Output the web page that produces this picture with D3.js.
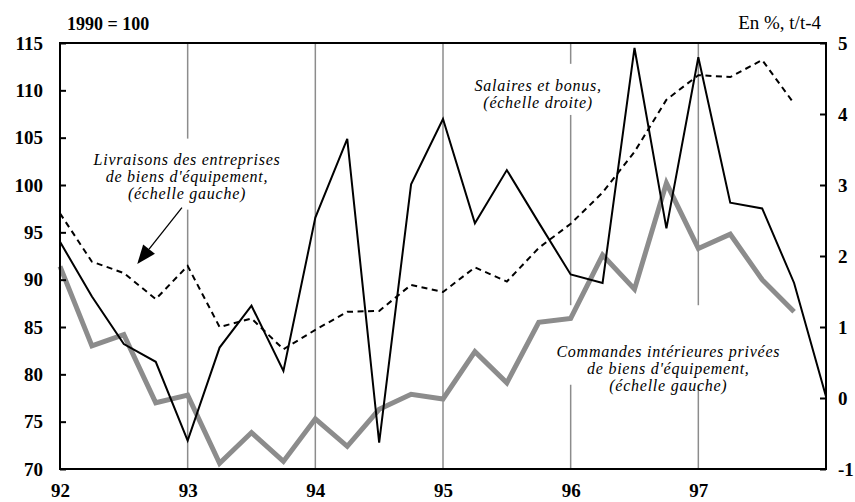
<!DOCTYPE html>
<html><head><meta charset="utf-8">
<script src="https://cdn.jsdelivr.net/npm/d3@7"></script>
<style>body{margin:0;background:#fff} svg{display:block}</style>
</head><body><svg id="c" width="855" height="502"></svg>
<script>
// ---- data ----
const quarters = [92, 92.25, 92.5, 92.75, 93, 93.25, 93.5, 93.75, 94, 94.25, 94.5, 94.75,
                  95, 95.25, 95.5, 95.75, 96, 96.25, 96.5, 96.75, 97, 97.25, 97.5, 97.75, 98];
// Salaires et bonus (échelle droite, %, t/t-4) — black line
const salaires = [2.20, 1.43, 0.76, 0.51, -0.60, 0.71, 1.30, 0.38, 2.54, 3.65, -0.63, 3.01,
                  3.93, 2.46, 3.21, 2.47, 1.74, 1.62, 4.93, 2.39, 4.80, 2.75, 2.67, 1.62, 0.02];
// Livraisons des entreprises de biens d'équipement (échelle gauche) — dashed line
const livraisons = [97.0, 91.9, 90.7, 87.95, 91.45, 85.0, 85.9, 82.65, 84.7, 86.6, 86.7, 89.45,
                    88.7, 91.3, 89.8, 93.35, 95.9, 99.2, 103.5, 109.0, 111.6, 111.4, 113.2, 108.6];
// Commandes intérieures privées de biens d'équipement (échelle gauche) — grey line
const commandes = [91.4, 83.0, 84.2, 77.0, 77.8, 70.6, 73.85, 70.8, 75.3, 72.4, 76.3, 77.9,
                   77.4, 82.4, 79.1, 85.5, 85.9, 92.6, 89.0, 100.2, 93.3, 94.8, 90.0, 86.6];
const xTicks = [92, 93, 94, 95, 96, 97];
const xTickLabels = ["92", "93", "94", "95", "96", "97"];
const gridYears = [93, 94, 95, 96, 97];
const leftTicks = [70, 75, 80, 85, 90, 95, 100, 105, 110, 115];
const rightTicks = [-1, 0, 1, 2, 3, 4, 5];
const leftTitle = "1990 = 100";
const rightTitle = "En %, t/t-4";
const labelLivraisons = ["Livraisons des entreprises", "de biens d'équipement,", "(échelle gauche)"];
const labelSalaires = ["Salaires et bonus,", "(échelle droite)"];
const labelCommandes = ["Commandes intérieures privées", "de biens d'équipement,", "(échelle gauche)"];

// ---- layout ----
const L = 60, R = 826, T = 43, B = 469;
const svg = d3.select("#c");
const x = d3.scaleLinear().domain([92, 98]).range([L, R]);
const yL = d3.scaleLinear().domain([70, 115]).range([B, T]);
const yR = d3.scaleLinear().domain([-1, 5]).range([B, T]);
const serif = "'Liberation Serif', 'Times New Roman', serif";

// gridlines
svg.append("g").selectAll("line").data(gridYears).join("line")
  .attr("x1", d => x(d)).attr("x2", d => x(d))
  .attr("y1", T).attr("y2", B)
  .attr("stroke", "#8c8c8c").attr("stroke-width", 1.5);

// white label boxes (hide gridlines)
const boxes = [
  {x0: 92.25, x1: 93.75, y0: 104.9, y1: 97.4},
  {x0: 95.2, x1: 96.25, y0: 112.8, y1: 107.4},
  {x0: 95.75, x1: 97.65, y0: 87.3, y1: 78.9}
];
svg.append("g").selectAll("rect").data(boxes).join("rect")
  .attr("x", d => x(d.x0)).attr("width", d => x(d.x1) - x(d.x0))
  .attr("y", d => yL(d.y0)).attr("height", d => yL(d.y1) - yL(d.y0))
  .attr("fill", "#fff");

// series
const lineL = d3.line().x((d, i) => x(quarters[i])).y(d => yL(d));
const lineR = d3.line().x((d, i) => x(quarters[i])).y(d => yR(d));
svg.append("path").datum(commandes).attr("d", lineL)
  .attr("fill", "none").attr("stroke", "#8c8c8c").attr("stroke-width", 5)
  .attr("stroke-linejoin", "miter");
svg.append("path").datum(livraisons).attr("d", lineL)
  .attr("fill", "none").attr("stroke", "#000").attr("stroke-width", 2)
  .attr("stroke-dasharray", "6,4.5");
svg.append("path").datum(salaires).attr("d", lineR)
  .attr("fill", "none").attr("stroke", "#000").attr("stroke-width", 2)
  .attr("stroke-linejoin", "miter");

// axes
const fmt = d => String(d);
const ax = svg.append("g").attr("font-family", serif).attr("font-weight", "bold");
const gl = ax.append("g").attr("transform", `translate(${L},0)`)
  .call(d3.axisLeft(yL).tickValues(leftTicks).tickFormat(fmt).tickSizeInner(-6).tickSizeOuter(0).tickPadding(17));
const gr = ax.append("g").attr("transform", `translate(${R},0)`)
  .call(d3.axisRight(yR).tickValues(rightTicks).tickFormat(fmt).tickSizeInner(-6).tickSizeOuter(0).tickPadding(12));
const gb = ax.append("g").attr("transform", `translate(0,${B})`)
  .call(d3.axisBottom(x).tickValues(xTicks).tickFormat((d, i) => xTickLabels[i]).tickSize(0).tickPadding(15));
[gl, gr, gb].forEach(g => {
  g.select(".domain").remove();
  g.selectAll("line").attr("stroke", "#000").attr("stroke-width", 2);
  g.selectAll("text").attr("font-size", 19).attr("font-family", serif).attr("font-weight", "bold").attr("fill", "#000");
});
svg.append("rect").attr("x", L).attr("y", T).attr("width", R - L).attr("height", B - T)
  .attr("fill", "none").attr("stroke", "#000").attr("stroke-width", 2);

// titles
svg.append("text").attr("x", L + 7).attr("y", 30).text(leftTitle)
  .attr("font-family", serif).attr("font-weight", "bold").attr("font-size", 18);
svg.append("text").attr("x", 821).attr("y", 29).attr("text-anchor", "end").text(rightTitle)
  .attr("font-family", serif).attr("font-size", 19);

// annotations
function label(lines, cx, yFirst, step) {
  const t = svg.append("text").attr("font-family", serif).attr("font-style", "italic")
    .attr("font-size", 16).attr("letter-spacing", 0.75).attr("text-anchor", "middle");
  lines.forEach((s, i) => t.append("tspan").attr("x", x(cx)).attr("y", yL(yFirst) + i * step).text(s));
}
label(labelLivraisons, 92.995, 102.1, 17);
label(labelSalaires, 95.745, 109.95, 16.8);
label(labelCommandes, 96.765, 81.85, 17.3);

// arrow
const arrowFrom = [92.955, 97.6], arrowTo = [92.605, 91.65];
const p0 = [x(arrowFrom[0]), yL(arrowFrom[1])], p1 = [x(arrowTo[0]), yL(arrowTo[1])];
const dx = p1[0] - p0[0], dy = p1[1] - p0[1], len = Math.hypot(dx, dy);
const ux = dx / len, uy = dy / len, hl = 19, hw = 7.5;
const base = [p1[0] - ux * hl, p1[1] - uy * hl];
svg.append("line").attr("x1", p0[0]).attr("y1", p0[1]).attr("x2", base[0]).attr("y2", base[1])
  .attr("stroke", "#000").attr("stroke-width", 1.3);
svg.append("path").attr("d", `M${p1[0]},${p1[1]}L${base[0] - uy * hw},${base[1] + ux * hw}L${base[0] + uy * hw},${base[1] - ux * hw}Z`)
  .attr("fill", "#000");
</script></body></html>
